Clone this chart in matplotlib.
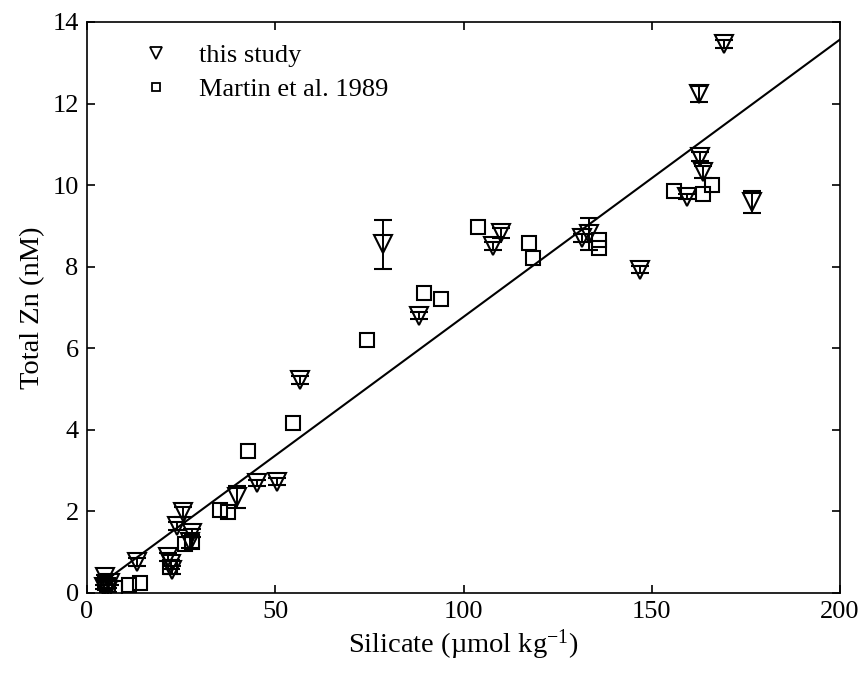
import numpy as np
import matplotlib
matplotlib.use("Agg")
import matplotlib.pyplot as plt
from matplotlib.lines import Line2D

# ------------------------------
# this study (triangles, with error bars)
# ------------------------------
study_si = [4.8, 4.5, 5.6, 6.0, 13.4, 21.6, 22.2, 22.5, 23.8, 25.6, 28.0, 27.4,
            39.8, 45.1, 50.4, 56.6, 78.7, 88.2, 107.7, 109.9, 131.4, 133.2,
            146.9, 159.3, 162.6, 162.8, 163.7, 169.2, 176.7]
study_zn = [0.40, 0.15, 0.08, 0.25, 0.77, 0.88, 0.70, 0.56, 1.64, 1.99, 1.48, 1.25,
            2.36, 2.70, 2.73, 5.22, 8.55, 6.80, 8.50, 8.83, 8.70, 8.80,
            7.93, 9.72, 12.23, 10.70, 10.33, 13.45, 9.59]
study_err = [0.05, 0.05, 0.05, 0.05, 0.10, 0.10, 0.10, 0.10, 0.10, 0.12, 0.10, 0.15,
             0.27, 0.08, 0.08, 0.10, 0.60, 0.08, 0.10, 0.12, 0.10, 0.40,
             0.08, 0.05, 0.20, 0.10, 0.15, 0.10, 0.27]

# ------------------------------
# Martin et al. 1989 (squares)
# ------------------------------
martin_si = [4.8, 5.5, 7.4, 11.2, 14.1, 22.0, 26.0, 27.8, 35.3, 37.4, 42.7, 54.8,
             74.3, 89.6, 94.1, 103.8, 117.4, 118.5, 136.1, 136.1, 155.9, 163.7, 165.9]
martin_zn = [0.25, 0.20, 0.12, 0.20, 0.25, 0.64, 1.20, 1.26, 2.03, 1.98, 3.49, 4.16,
             6.20, 7.35, 7.21, 8.97, 8.57, 8.21, 8.65, 8.45, 9.86, 9.78, 10.00]

# regression line
FIT_SLOPE = 0.068
FIT_INTERCEPT = -0.03
FIT_X = [3, 200]

plt.rcParams['font.family'] = ['Liberation Serif', 'DejaVu Serif']
plt.rcParams['mathtext.fontset'] = 'custom'
plt.rcParams['mathtext.rm'] = 'Liberation Serif'
plt.rcParams['mathtext.it'] = 'Liberation Serif:italic'

fig = plt.figure(figsize=(8.65, 6.74), dpi=100)
ax = fig.add_axes([0.1006, 0.1202, 0.8705, 0.8472])

fit_x = np.array(FIT_X, dtype=float)
ax.plot(fit_x, FIT_SLOPE * fit_x + FIT_INTERCEPT, color='black', linewidth=1.5)

ax.errorbar(study_si, study_zn, yerr=study_err, fmt='v', markersize=13,
            markerfacecolor='none', markeredgecolor='black', markeredgewidth=1.5,
            ecolor='black', elinewidth=1.4, capsize=6.5, capthick=1.4)
ax.plot(martin_si, martin_zn, 's', markersize=9.5, markerfacecolor='none',
        markeredgecolor='black', markeredgewidth=1.5)

ax.set_xlim(0, 200)
ax.set_ylim(0, 14)
ax.set_xticks([0, 50, 100, 150, 200])
ax.set_yticks([0, 2, 4, 6, 8, 10, 12, 14])
ax.tick_params(direction='in', top=True, right=True, length=6, width=1.2,
               labelsize=19, pad=6)
for s in ax.spines.values():
    s.set_linewidth(1.2)

ax.set_xlabel('Silicate (µmol kg$^{\\mathrm{-1}}$)', fontsize=20.5, labelpad=3)
ax.set_ylabel('Total Zn (nM)', fontsize=20.5, labelpad=5)

handles = [
    Line2D([], [], linestyle='none', marker='v', markersize=8, markerfacecolor='none',
           markeredgecolor='black', markeredgewidth=1.3),
    Line2D([], [], linestyle='none', marker='s', markersize=6, markerfacecolor='none',
           markeredgecolor='black', markeredgewidth=1.3),
]
ax.legend(handles, ['this study', 'Martin et al. 1989'], loc='upper left',
          frameon=False, fontsize=19, handletextpad=1.0, handlelength=1.2,
          bbox_to_anchor=(0.05, 0.99), borderaxespad=0.2, labelspacing=0.4)

fig.savefig('out.png', dpi=100)
